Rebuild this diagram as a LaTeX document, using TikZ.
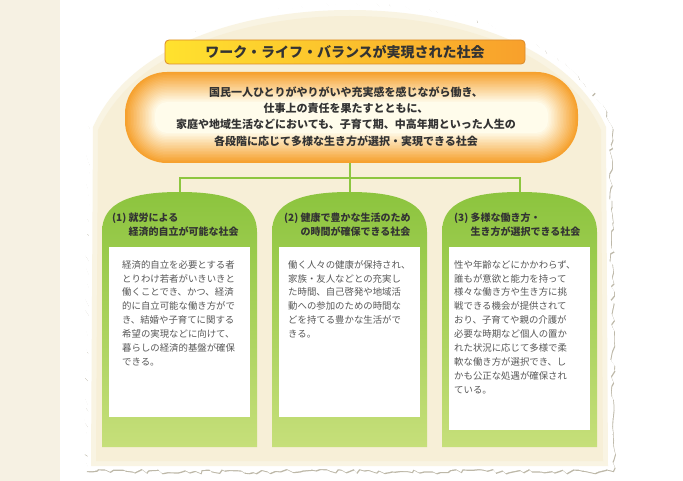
\documentclass[tikz,border=0pt]{standalone}
\usepackage{fontspec}
\setmainfont{Noto Sans CJK JP}
\usetikzlibrary{decorations.pathmorphing}
\definecolor{stripc}{HTML}{F6F1E3}
\definecolor{paperc}{HTML}{F7EFD7}
\definecolor{edgeg}{HTML}{BDB8A8}
\definecolor{orA}{HTML}{F6A12E}
\definecolor{orIn}{HTML}{FFFCEB}
\definecolor{titleY}{HTML}{FFE22E}
\definecolor{titleO}{HTML}{F8A02C}
\definecolor{titleB}{HTML}{DB8A2A}
\definecolor{grA}{HTML}{8CC43E}
\definecolor{grB}{HTML}{C6DF7A}
\definecolor{conng}{HTML}{8DC63F}
\definecolor{txtd}{HTML}{333333}
\definecolor{txtb}{HTML}{585858}
\tikzset{
  conn/.style={draw=conng, line width=2pt},
  torn/.style={decorate, decoration={random steps, segment length=4.5pt, amplitude=2.3pt}},
  headtxt/.style={anchor=north west, align=left, inner sep=0pt, text=txtd,
    font=\bfseries\fontsize{10}{13.5}\selectfont},
  bodytxt/.style={anchor=north west, align=left, inner sep=0pt, text=txtb,
    font=\fontsize{9.4}{13.9}\selectfont},
}
\newcommand\gbox[5]{% left, right, name, whitebottom, white inset
  \shade[top color=grA, bottom color=grB]
    (#1,447) -- (#1,232) .. controls (#1,202) and ({(#1+#2)/2-48},192) .. ({(#1+#2)/2},192)
    .. controls ({(#1+#2)/2+48},192) and (#2,202) .. (#2,232) -- (#2,447) -- cycle;
  \coordinate (#3) at ({(#1+#2)/2},192);
  \node[fill=white, inner sep=0pt, anchor=north west, minimum width={#2-#1-2*#5}, minimum height={#4-247}]
    (#3w) at ({#1+#5},247) {};
}
\begin{document}
\begin{tikzpicture}[x=1pt,y=-1pt]
\useasboundingbox (0,0) rectangle (683,481);
\fill[white] (0,0) rectangle (683,481);
\fill[stripc] (0,0) rectangle (60,481);
% torn paper
\pgfmathsetseed{42}
\fill[edgeg, torn, xshift=0.8pt, yshift=-1.2pt]
  (86,471) -- (88,125) .. controls (125,40) and (240,4) .. (350,4) .. controls (460,4) and (575,40) .. (611,125) -- (613,471) -- cycle;
\pgfmathsetseed{42}
\fill[white, torn]
  (86,471) -- (88,125) .. controls (125,40) and (240,4) .. (350,4) .. controls (460,4) and (575,40) .. (611,125) -- (613,471) -- cycle;
\fill[paperc!70!white]
  (91,466) -- (93,127) .. controls (130,45) and (242,10) .. (350,10) .. controls (458,10) and (570,45) .. (606,127) -- (608,466) -- cycle;
\fill[paperc]
  (96,461) -- (98,130) .. controls (135,50) and (245,16) .. (350,16) .. controls (455,16) and (565,50) .. (601,130) -- (603,461) -- cycle;
% title
\node[draw=titleB, line width=0.8pt, rounded corners=4pt, left color=titleY, right color=titleO,
  minimum width=360pt, minimum height=24pt, inner sep=0pt,
  font=\bfseries\fontsize{14}{16}\selectfont, text=txtd] (title) at (345,52)
  {ワーク・ライフ・バランスが実現された社会};
% oval with inner glow
\foreach \i in {0,...,20}{
  \pgfmathsetmacro\d{\i*1.5}
  \pgfmathtruncatemacro\p{max(0,100-\i*5)}
  \pgfmathsetmacro\r{max(4,42-\d)}
  \fill[orA!\p!orIn, rounded corners=\r pt] ({125+\d},{72+\d}) rectangle ({578-\d},{163-\d});
}
\node[minimum width=453pt, minimum height=91pt, inner sep=0pt] (oval) at (349,117.5) {};
\node[align=center, inner sep=0pt, text=txtd, font=\bfseries\fontsize{11}{16.2}\selectfont] (maintxt) at (346,116.5)
  {国民一人ひとりがやりがいや充実感を感じながら働き、\\
   仕事上の責任を果たすとともに、\\
   家庭や地域生活などにおいても、子育て期、中高年期といった人生の\\
   各段階に応じて多様な生き方が選択・実現できる社会};
% boxes
\gbox{102}{257}{g1}{417}{7}
\gbox{272}{427}{g2}{417}{7}
\gbox{442}{597}{g3}{430}{7}
% connectors
\coordinate (hub) at (349.5,178);
\draw[conn] (oval.south -| hub) -- (hub);
\draw[conn] (g1) -- (g1 |- hub) -- (g3 |- hub) -- (g3);
\draw[conn] (hub) -- (g2);
% headers
\node[headtxt] (h1) at (112,213) {(1)\ 就労による\\\phantom{(1)\ }経済的自立が可能な社会};
\node[headtxt] (h2) at (284,213) {(2)\ 健康で豊かな生活のため\\\phantom{(2)\ }の時間が確保できる社会};
\node[headtxt] (h3) at (454,213) {(3)\ 多様な働き方・\\\phantom{(3)\ }生き方が選択できる社会};
% bodies
\node[bodytxt] (b1) at (122,260) {経済的自立を必要とする者\\とりわけ若者がいきいきと\\働くことでき、かつ、経済\\的に自立可能な働き方がで\\き、結婚や子育てに関する\\希望の実現などに向けて、\\暮らしの経済的基盤が確保\\できる。};
\node[bodytxt] (b2) at (288,260) {働く人々の健康が保持され、\\家族・友人などとの充実し\\た時間、自己啓発や地域活\\動への参加のための時間な\\どを持てる豊かな生活がで\\きる。};
\node[bodytxt] (b3) at (454,260) {性や年齢などにかかわらず、\\誰もが意欲と能力を持って\\様々な働き方や生き方に挑\\戦できる機会が提供されて\\おり、子育てや親の介護が\\必要な時期など個人の置か\\れた状況に応じて多様で柔\\軟な働き方が選択でき、し\\かも公正な処遇が確保され\\ている。};
\end{tikzpicture}
\end{document}
